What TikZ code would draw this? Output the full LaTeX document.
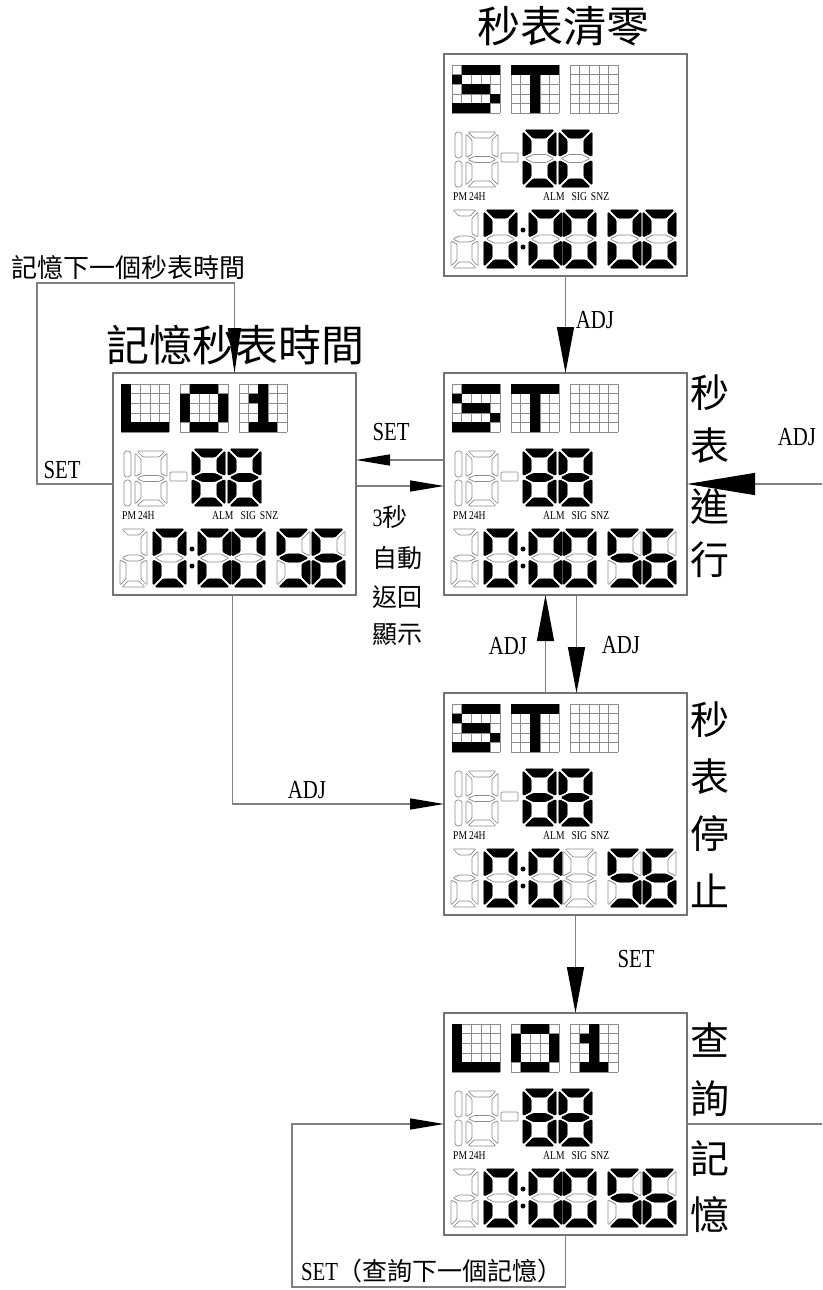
\documentclass[tikz,border=0pt]{standalone}
\usepackage{fontspec}
\setmainfont{Liberation Serif}
\newfontfamily\cjk{Noto Sans CJK TC}
\newfontfamily\lab[FakeStretch=0.8]{Liberation Serif}
\usetikzlibrary{arrows.meta}

\tikzset{
  conn/.style={draw=black!50, line width=1.3pt},
  lcdbox/.style={draw=black!55, line width=1.4pt, fill=white, minimum width=243pt, minimum height=222pt, inner sep=0pt, outer sep=0pt, anchor=north west},
  segoff/.style={draw=black!45, fill=white, line width=0.7pt, line join=round, rounded corners=1pt},
  segon/.style={draw=black, fill=black, line width=0.6pt, line join=round, rounded corners=1.2pt},
  tipL/.style={-{Triangle[length=46pt,width=17pt,color=black]}},
  tipS/.style={-{Triangle[length=34pt,width=11pt,color=black]}},
  tipM/.style={-{Triangle[length=45pt,width=13pt,color=black]}},
  tipR/.style={-{Triangle[length=68pt,width=22pt,color=black]}},
  ttl/.style={font=\cjk\fontsize{43}{43}\selectfont, inner sep=0pt},
  sidel/.style={font=\cjk\fontsize{39}{39}\selectfont, inner sep=0pt},
  midl/.style={font=\cjk\fontsize{25}{25}\selectfont, inner sep=0pt},
  notel/.style={font=\cjk\fontsize{26}{26}\selectfont, inner sep=0pt},
  lbl/.style={font=\lab\fontsize{26}{26}\selectfont, inner sep=0pt},
  tinyl/.style={font=\lab\fontsize{12}{12}\selectfont, inner sep=0pt, anchor=west},
}

\def\dW{33}\def\dH{57}\def\dT{8}\def\dG{2}
\def\sega{(\dG,0) -- (\dW-\dG,0) -- (\dW-\dT-\dG,\dT) -- (\dT+\dG,\dT) -- cycle}
\def\segb{(\dW,\dG) -- (\dW,\dH/2-\dG) -- (\dW-\dT,\dH/2-\dT/2-\dG) -- (\dW-\dT,\dT+\dG) -- cycle}
\def\segc{(\dW,\dH/2+\dG) -- (\dW,\dH-\dG) -- (\dW-\dT,\dH-\dT-\dG) -- (\dW-\dT,\dH/2+\dT/2+\dG) -- cycle}
\def\segd{(\dG,\dH) -- (\dW-\dG,\dH) -- (\dW-\dT-\dG,\dH-\dT) -- (\dT+\dG,\dH-\dT) -- cycle}
\def\sege{(0,\dH/2+\dG) -- (0,\dH-\dG) -- (\dT,\dH-\dT-\dG) -- (\dT,\dH/2+\dT/2+\dG) -- cycle}
\def\segf{(0,\dG) -- (0,\dH/2-\dG) -- (\dT,\dH/2-\dT/2-\dG) -- (\dT,\dT+\dG) -- cycle}
\def\segg{(\dG,\dH/2) -- (\dT+\dG,\dH/2-\dT/2) -- (\dW-\dT-\dG,\dH/2-\dT/2) -- (\dW-\dG,\dH/2) -- (\dW-\dT-\dG,\dH/2+\dT/2) -- (\dT+\dG,\dH/2+\dT/2) -- cycle}

\newcommand\sdig[4]{%
  \begin{scope}[shift={(#1,#2)}]
    \foreach \sg in {#3}{\expandafter\let\expandafter\cur\csname seg\sg\endcsname \path[segoff] \cur;}
    \ifx\relax#4\relax\else
      \foreach \sg in {#4}{\expandafter\let\expandafter\cur\csname seg\sg\endcsname \path[segon] \cur;}
    \fi
  \end{scope}}

\newcommand\dmat[3]{%
  \begin{scope}[shift={(#1,#2)}]
    \fill[white] (0,0) rectangle (48,48);
    \foreach \i in {0,...,5}{\draw[black!45,line width=0.6pt] (\i*9.6,0) -- (\i*9.6,48) (0,\i*9.6) -- (48,\i*9.6);}
    \ifx\relax#3\relax\else
      \foreach \mr/\mc in #3{\fill[black] (\mc*9.6,\mr*9.6) rectangle ++(9.6,9.6);}
    \fi
  \end{scope}}

\def\pS{0/1,0/2,0/3,0/4,1/0,2/1,2/2,2/3,3/4,4/0,4/1,4/2,4/3}
\def\pT{0/0,0/1,0/2,0/3,0/4,1/2,2/2,3/2,4/2}
\def\pL{0/0,1/0,2/0,3/0,4/0,4/1,4/2,4/3,4/4}
\def\pO{0/1,0/2,0/3,1/0,1/4,2/0,2/4,3/0,3/4,4/1,4/2,4/3}
\def\pI{0/2,1/1,1/2,2/2,3/2,4/1,4/2,4/3}

\newcommand\lcd[9]{%
  \begin{scope}[shift={(#1,#2)}]
    \dmat{8}{11}{#3}\dmat{67}{11}{#4}\dmat{126}{11}{#5}
    \draw[segoff, rounded corners=3pt] (11,78) rectangle (18,104);
    \draw[segoff, rounded corners=3pt] (11,107) rectangle (18,133);
    \def\dW{32}\def\dH{55}\def\dT{6}
    \sdig{22}{78}{a,b,c,d,e,f,g}{}
    \draw[segoff] (57,99) rectangle (74,108);
    \def\dW{33}\def\dH{57}\def\dT{8}
    \sdig{79}{76}{a,b,c,d,e,f,g}{#6}
    \sdig{115}{76}{a,b,c,d,e,f,g}{#6}
    \node[tinyl] at (9,143) {PM\,24H};
    \node[tinyl] at (99,143) {ALM\hspace{7pt}SIG\hspace{4pt}SNZ};
    \def\dW{27}\def\dH{58}\def\dT{6}
    \sdig{7}{156}{a,b,c,d,e,g}{}
    \def\dW{33}\def\dH{58}\def\dT{8}
    \sdig{40}{156}{a,b,c,d,e,f,g}{a,b,c,d,e,f}
    \sdig{85}{156}{a,b,c,d,e,f,g}{a,b,c,d,e,f}
    \sdig{119}{156}{a,b,c,d,e,f,g}{#7}
    \sdig{164}{156}{a,b,c,d,e,f,g}{#8}
    \sdig{199}{156}{a,b,c,d,e,f,g}{#9}
    \fill (79,176) circle (2.5pt) (79,193) circle (2.5pt);
  \end{scope}}

\begin{document}
\begin{tikzpicture}[x=1pt,y=-1pt]
\useasboundingbox (0,0) rectangle (822,1290);

% boxes
\node[lcdbox] (clear) at (444,54) {};
\node[lcdbox] (run) at (444,373) {};
\node[lcdbox] (mem) at (113,373) {};
\node[lcdbox] (stop) at (444,693) {};
\node[lcdbox] (query) at (444,1013) {};

% displays
\lcd{444}{54}{\pS}{\pT}{}{a,b,c,d,e,f}{a,b,c,d,e,f}{a,b,c,d,e,f}{a,b,c,d,e,f}
\lcd{444}{373}{\pS}{\pT}{}{a,b,c,d,e,f,g}{a,b,c,d,e,f}{a,c,d,f,g}{a,c,d,e,f,g}
\lcd{113}{373}{\pL}{\pO}{\pI}{a,b,c,d,e,f,g}{a,b,c,d,e,f}{a,c,d,f,g}{a,c,d,e,f,g}
\lcd{444}{693}{\pS}{\pT}{}{a,b,c,d,e,f,g}{}{a,c,d,f,g}{a,c,d,e,f,g}
\lcd{444}{1013}{\pL}{\pO}{\pI}{a,b,c,d,e,f,g}{a,b,c,d,e,f}{a,c,d,f,g}{a,c,d,e,f,g}

% titles and labels
\node[ttl] (tclear) at (563,26) {秒表清零};
\node[ttl] (tmem) at (235,345) {記憶秒表時間};
\node[notel] (tnext) at (128,268) {記憶下一個秒表時間};

\node[sidel] at (710,393) {秒};
\node[sidel] at (710,446) {表};
\node[sidel] at (710,507) {進};
\node[sidel] at (710,560) {行};

\node[sidel] at (710,720) {秒};
\node[sidel] at (710,777) {表};
\node[sidel] at (710,834) {停};
\node[sidel] at (710,891) {止};

\node[sidel] at (710,1040) {查};
\node[sidel] at (710,1099) {詢};
\node[sidel] at (710,1158) {記};
\node[sidel] at (710,1215) {憶};

\node[lbl] at (62,470) {SET};
\node[lbl] at (391,432) {SET};
\node[midl] at (390,517) {{\lab 3}秒};
\node[midl] at (397,558) {自動};
\node[midl] at (397,597) {返回};
\node[midl] at (397,635) {顯示};
\node[lbl] at (595,320) {ADJ};
\node[lbl] at (797,437) {ADJ};
\node[lbl] at (508,646) {ADJ};
\node[lbl] at (621,645) {ADJ};
\node[lbl] at (307,790) {ADJ};
\node[lbl] at (636,959) {SET};
\node[midl] at (432,1271) {{\lab\fontsize{26}{26}\selectfont SET}（查詢下一個記憶）};

% connectors
\coordinate (loopTL) at (37,283);
\coordinate (rin) at (822,484);
\coordinate (qBL) at (292,1287);
\coordinate (qout) at (822,1124);

\draw[conn,tipL] (clear.south) -- (run.north);
\draw[conn,tipS] ([yshift=24pt]run.west) -- ([yshift=24pt]mem.east);
\draw[conn,tipS] ([yshift=-2pt]mem.east) -- ([yshift=-2pt]run.west);
\draw[conn,tipM] (mem.west) -| (loopTL) -| (mem.north);
\draw[conn,tipR] (rin) -- (run.east);
\draw[conn,tipL] ([xshift=-20pt]stop.north) -- ([xshift=-20pt]run.south);
\draw[conn,tipL] ([xshift=11pt]run.south) -- ([xshift=11pt]stop.north);
\draw[conn,tipS] ([xshift=-2pt]mem.south) |- (stop.west);
\draw[conn,tipL] ([xshift=10pt]stop.south) -- ([xshift=10pt]query.north);
\draw[conn,tipS] (query.south) |- (qBL) |- (query.west);
\draw[conn] (query.east) -- (qout);
\end{tikzpicture}
\end{document}
